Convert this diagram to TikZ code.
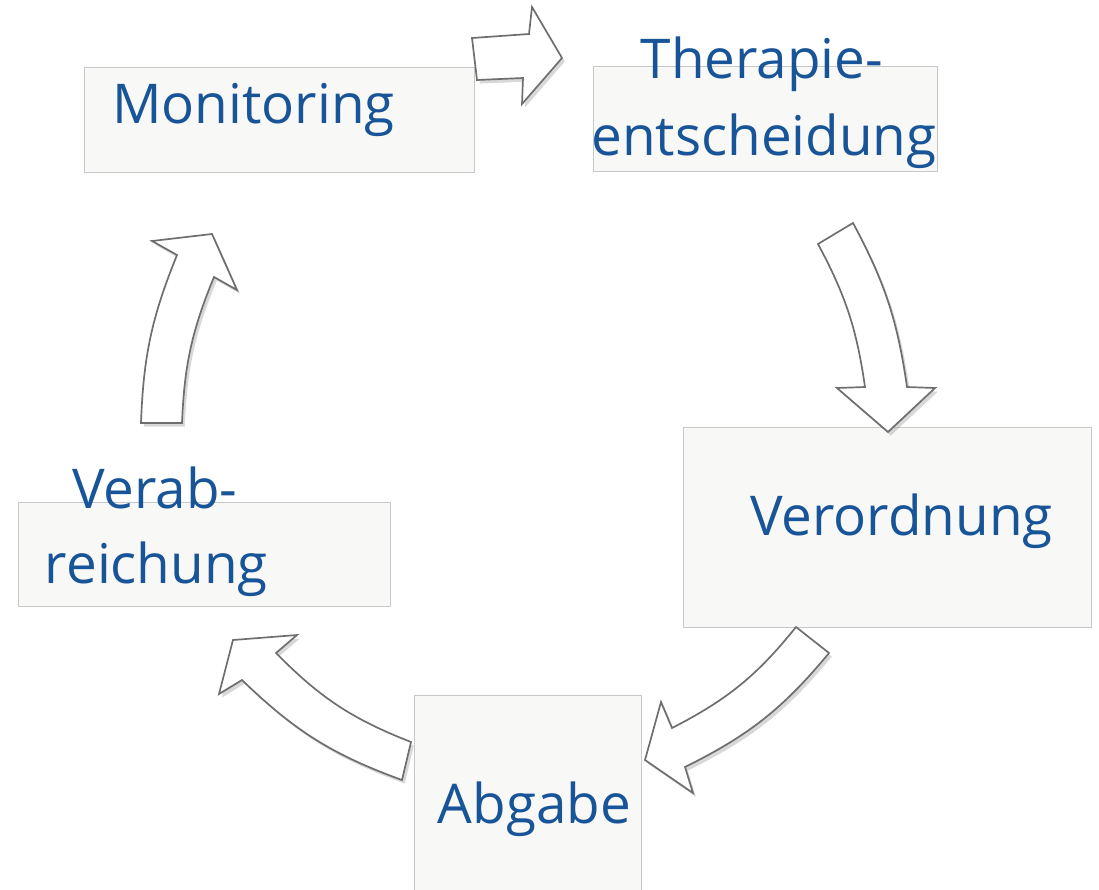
\documentclass[tikz,border=0pt]{standalone}
\usepackage{fontspec}
\setmainfont{Open Sans}
\usetikzlibrary{shadows}

\definecolor{stepblue}{RGB}{24,84,152}
\definecolor{boxfill}{RGB}{248,248,246}
\definecolor{boxline}{RGB}{200,200,200}
\definecolor{arrowline}{RGB}{110,110,110}

\begin{document}
\begin{tikzpicture}[
    x=0.25mm, y=-0.25mm,
    box/.style 2 args={draw=boxline, fill=boxfill, line width=.6pt, inner sep=0pt,
                       minimum width=#1*0.25mm, minimum height=#2*0.25mm},
    lbl/.style={text=stepblue, inner sep=0pt, anchor=base,
                font=\fontsize{39}{54}\selectfont},
    cyc/.style={fill=white, draw=arrowline, line width=1.2pt,
                drop shadow={opacity=.3, shadow xshift=.7mm, shadow yshift=-.9mm}},
  ]
    \fill[white] (0,0) rectangle (1099,889);
    \useasboundingbox (0,0) rectangle (1099,889);
    % step boxes
    \node[box={390}{105}] (mon)   at (279,119.5) {};
    \node[box={344}{105}] (ther)  at (765,118.5) {};
    \node[box={408}{200}] (vero)  at (887,527)   {};
    \node[box={227}{200}] (abg)   at (527.5,795) {};
    \node[box={372}{104}] (verab) at (204,554)   {};
    % cycle arrows
    \draw[cyc] (472,38) -- (529,34) -- (532,7) -- (562,58) -- (522,104)
               -- (523,78) -- (477,80) -- cycle;
    \draw[cyc] (853,223) to[bend left=10] (907,387) -- (935,388) -- (888,432)
               -- (837,388) -- (865,387) to[bend right=10] (818,244) -- cycle;
    \draw[cyc] (829,653) to[bend left=12] (685,767) -- (693,793) -- (645,760)
               -- (661,702) -- (672,728) to[bend right=12] (796,627) -- cycle;
    \draw[cyc] (402,780) to[bend left=12] (242,680) -- (219,694) -- (233,640)
               -- (297,635) -- (276,653) to[bend right=12] (411,742) -- cycle;
    \draw[cyc] (141,423) to[bend left=10] (177,255) -- (152,241) -- (212,234)
               -- (237,290) -- (214,277) to[bend right=10] (182,423) -- cycle;
    % labels
    \node[lbl] (monT)   at (253.5,123) {Monitoring};
    \node[lbl] (therT)  at (762,78)    {Therapie-};
    \node[lbl] (therB)  at (764,155)   {entscheidung};
    \node[lbl] (veroT)  at (901.5,535) {Verordnung};
    \node[lbl] (abgT)   at (534.5,823) {Abgabe};
    \node[lbl] (verabT) at (155,508)   {Verab-};
    \node[lbl] (verabB) at (156.5,583) {reichung};
\end{tikzpicture}
\end{document}
